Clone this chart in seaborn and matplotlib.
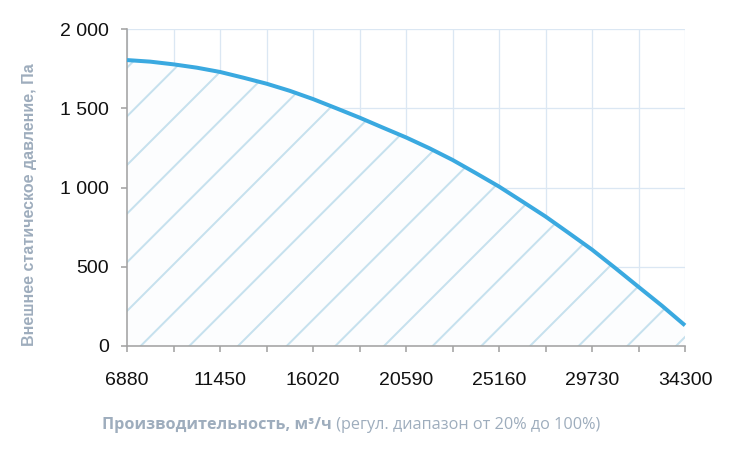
import numpy as np
import pandas as pd
import seaborn as sns
import matplotlib.pyplot as plt
from matplotlib.ticker import FuncFormatter

# flow, m3/h and static pressure, Pa (half a grid step apart)
flow = [6880, 8022.5, 9165, 10307.5, 11450, 12592.5, 13735, 14877.5, 16020,
        17162.5, 18305, 19447.5, 20590, 21732.5, 22875, 24017.5, 25160,
        26302.5, 27445, 28587.5, 29730, 30872.5, 32015, 33157.5, 34300]
pressure = [1804, 1794, 1777, 1756, 1729, 1693, 1655, 1610, 1558,
            1500, 1441, 1378, 1316, 1248, 1174, 1091, 1006,
            912, 817, 713, 608, 492, 373, 255, 130]
x_labels = [6880, 11450, 16020, 20590, 25160, 29730, 34300]
x_ticks = flow[::2]
y_ticks = [0, 500, 1000, 1500, 2000]

ylabel_text = "Внешнее статическое давление, Па"
xlabel_bold = "Производительность, м³/ч"
xlabel_rest = " (регул. диапазон от 20% до 100%)"

# dpi picked so the default "/" hatch spacing matches the reference (~48px)
DPI = 146
W, H = 730, 456
P = 72 / DPI  # points per pixel

sns.set_style("white")
plt.rcParams['font.family'] = ['Liberation Sans', 'DejaVu Sans']
plt.rcParams['hatch.linewidth'] = 2.0 * P

df = pd.DataFrame({"flow": flow, "pressure": pressure})

fig = plt.figure(figsize=(W / DPI, H / DPI), dpi=DPI)
ax = fig.add_axes([127 / W, (H - 346) / H, (685 - 127) / W, (346 - 29) / H])

grid_col = "#dbe7f3"
ax.set_xlim(flow[0], flow[-1])
ax.set_ylim(0, 2000)
ax.set_xticks(x_labels)
ax.set_xticks(x_ticks, minor=True)
ax.set_yticks(y_ticks)
ax.yaxis.set_major_formatter(FuncFormatter(lambda v, p: f"{int(v):,}".replace(",", " ")))
ax.grid(True, which="both", color=grid_col, linewidth=1.3 * P, zorder=0)
ax.set_axisbelow(True)

ax.fill_between(df["flow"], 0, df["pressure"], facecolor="#fcfdfe",
                edgecolor="#c6e1ee", hatch="/", linewidth=0, zorder=1)
sns.lineplot(data=df, x="flow", y="pressure", ax=ax, color="#3aa9e0",
             linewidth=4.0 * P, zorder=3, clip_on=False,
             solid_joinstyle="round", solid_capstyle="butt")

for s in ["top", "right"]:
    ax.spines[s].set_visible(False)
for s in ["left", "bottom"]:
    ax.spines[s].set_color("#a3a3a3")
    ax.spines[s].set_linewidth(1.6 * P)

ax.tick_params(axis="both", which="both", direction="out", color="#a3a3a3",
               bottom=True, left=True, width=1.6 * P, length=6 * P,
               labelsize=19.5 * P, labelcolor="#111111")
ax.tick_params(axis="x", which="both", pad=20 * P)
ax.tick_params(axis="y", which="both", pad=12 * P)
ax.set_xlabel("")
ax.set_ylabel("")

label_col = "#9eadbd"
fig.text(30 / W, 1 - 205 / H, ylabel_text, rotation=90, ha="center", va="center",
         color=label_col, fontsize=16 * P, fontweight="bold",
         family=['Liberation Sans', 'DejaVu Sans'])

t1 = fig.text(102 / W, 1 - 425 / H, xlabel_bold, ha="left", va="center",
              color=label_col, fontsize=16.2 * P, fontweight="bold",
              family=['Open Sans', 'DejaVu Sans'])
fig.canvas.draw()
bb = t1.get_window_extent()
fig.text(bb.x1 / W, 1 - 425 / H, xlabel_rest, ha="left", va="center",
         color=label_col, fontsize=16.2 * P, family=['Open Sans', 'DejaVu Sans'])

fig.savefig("out.png", dpi=DPI)
